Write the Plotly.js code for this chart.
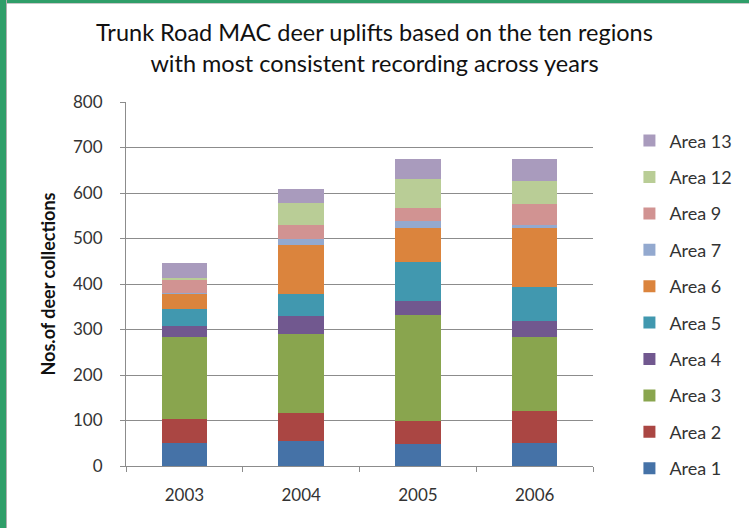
<!DOCTYPE html>
<html>
<head>
<meta charset="utf-8">
<script src="https://cdn.plot.ly/plotly-3.0.1.min.js"></script>
<style>
  html, body { margin: 0; padding: 0; background: #fff; }
  #wrap { position: relative; width: 749px; height: 528px; overflow: hidden; }
  #chart { position: absolute; left: 0; top: 0; width: 749px; height: 528px; }
  #bl { position: absolute; left: 0; top: 0; width: 6px; height: 528px; background: #2f9e69; border-right: 1px solid #b0b0b0; }
  #bt { position: absolute; left: 0; top: 0; width: 749px; height: 3px; background: #2f9e69; border-bottom: 1px solid #c8c8c8; }
</style>
</head>
<body>
<div id="wrap">
  <div id="chart"></div>
  <div id="bt"></div>
  <div id="bl"></div>
</div>
<script>
const years = ['2003', '2004', '2005', '2006'];
const seriesNames = ['Area 1', 'Area 2', 'Area 3', 'Area 4', 'Area 5', 'Area 6', 'Area 7', 'Area 9', 'Area 12', 'Area 13'];
const area1  = [50, 56, 48, 51];
const area2  = [54, 61, 51, 70];
const area3  = [180, 173, 233, 163];
const area4  = [23, 40, 31, 34];
const area5  = [38, 48, 86, 76];
const area6  = [33, 108, 75, 130];
const area7  = [2, 12, 15, 6];
const area9  = [29, 32, 27, 46];
const area12 = [5, 47, 65, 50];
const area13 = [33, 31, 43, 48];
const seriesValues = [area1, area2, area3, area4, area5, area6, area7, area9, area12, area13];
const seriesColors = ['#4572A7', '#AA4643', '#89A54E', '#71588F', '#4198AF', '#DB843D', '#93A9CF', '#D19392', '#B9CD96', '#A99BBD'];
const yTicks = [0, 100, 200, 300, 400, 500, 600, 700, 800];

const font = 'Lato, "Open Sans", "Liberation Sans", sans-serif';

const traces = seriesNames.map((name, i) => ({
  type: 'bar',
  name: name,
  x: years,
  y: seriesValues[i],
  legendgroup: 'g' + i,
  legendrank: 100 - i,
  marker: { color: seriesColors[i], line: { width: 0 } },
  hoverinfo: 'name+y'
}));

const layout = {
  width: 749,
  height: 528,
  paper_bgcolor: '#ffffff',
  plot_bgcolor: '#ffffff',
  barmode: 'stack',
  bargap: 0.61,
  margin: { l: 126, r: 127, t: 102, b: 62, pad: 0 },
  title: {
    text: 'Trunk Road MAC deer uplifts based on the ten regions<br>with most consistent recording across years',
    font: { family: font, size: 23.5, color: '#111111' },
    x: 0.5, xanchor: 'center',
    y: 0.922, yanchor: 'top'
  },
  xaxis: {
    type: 'category',
    showgrid: false,
    showline: true,
    linecolor: '#8c8c8c',
    linewidth: 1,
    ticks: 'outside',
    tickson: 'boundaries',
    ticklen: 5,
    tickcolor: '#8c8c8c',
    ticklabelstandoff: 14,
    tickfont: { family: font, size: 17, color: '#333333' },
    zeroline: false
  },
  yaxis: {
    range: [0, 800],
    tickvals: yTicks,
    ticktext: yTicks.map(String),
    showgrid: true,
    gridcolor: '#8c8c8c',
    gridwidth: 1,
    showline: true,
    linecolor: '#8c8c8c',
    linewidth: 1,
    ticks: 'outside',
    ticklen: 5,
    tickcolor: '#8c8c8c',
    ticklabelstandoff: 14,
    tickfont: { family: font, size: 17, color: '#333333' },
    zeroline: false,
    title: {
      text: 'Nos.of deer collections',
      font: { family: font, size: 18, color: '#111111', weight: 'bold' },
      standoff: 12
    }
  },
  legend: {
    traceorder: 'grouped',
    tracegroupgap: 10,
    x: 1.078, xanchor: 'left',
    y: 0.444, yanchor: 'middle',
    font: { family: font, size: 18, color: '#333333' },
    itemwidth: 30,
    bgcolor: 'rgba(0,0,0,0)'
  },
  showlegend: true
};

Plotly.newPlot('chart', traces, layout, { displayModeBar: false, staticPlot: true });
</script>
</body>
</html>
